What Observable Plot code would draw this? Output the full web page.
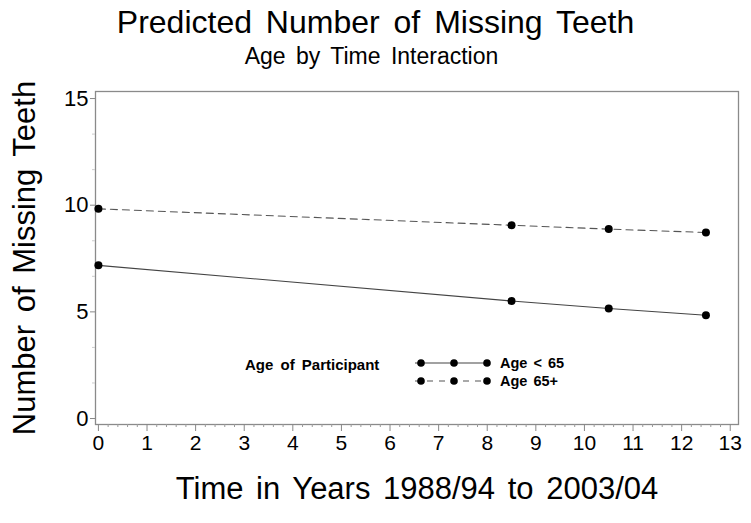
<!DOCTYPE html>
<html>
<head>
<meta charset="utf-8">
<script src="https://cdn.jsdelivr.net/npm/d3@7"></script>
<script src="https://cdn.jsdelivr.net/npm/@observablehq/plot@0.6"></script>
<style>
  html, body { margin: 0; padding: 0; background: #fff; }
  body { width: 751px; height: 523px; position: relative; overflow: hidden;
         font-family: "Liberation Sans", Arial, sans-serif; color: #000; }
  #title { position: absolute; left: 0; width: 751px; top: 3px; text-align: center;
           font-size: 32px; word-spacing: 5px; line-height: 38px; z-index: 2; }
  #subtitle { position: absolute; left: 0; width: 743px; top: 43px; text-align: center;
              font-size: 23px; word-spacing: 4px; line-height: 27px; z-index: 2; }
  #chart { position: absolute; left: 0; top: 0; }
  #legend { position: absolute; left: 0; top: 0; pointer-events: none; }
</style>
</head>
<body>
<div id="chart"></div>
<div id="title">Predicted Number of Missing Teeth</div>
<div id="subtitle">Age by Time Interaction</div>
<svg id="legend" width="751" height="523"></svg>
<script>
// ---- data ----
const times = [0, 8.5, 10.5, 12.5];
const under65 = [7.18, 5.51, 5.16, 4.84];
const over65 = [9.83, 9.06, 8.88, 8.72];
const groups = ["Age < 65", "Age 65+"];
const xTicks = d3.range(0, 14);
const yTicks = [0, 5, 10, 15];
const titleX = "Time in Years 1988/94 to 2003/04";
const titleY = "Number of Missing Teeth";
const legendTitle = "Age of Participant";

const rows = [
  ...times.map((t, i) => ({time: t, value: under65[i], group: groups[0]})),
  ...times.map((t, i) => ({time: t, value: over65[i], group: groups[1]}))
];
const minorX = d3.range(0, 13.01, 0.2).filter(v => Math.abs(v - Math.round(v)) > 1e-6);
const minorY = d3.range(0, 15.01, 5 / 3).filter(v => Math.abs(v / 5 - Math.round(v / 5)) > 1e-6);

const font = "Liberation Sans, Arial, sans-serif";
const plot = Plot.plot({
  width: 751,
  height: 523,
  marginLeft: 95,
  marginRight: 13,
  marginTop: 91,
  marginBottom: 99,
  style: {fontFamily: font, background: "transparent", color: "#000"},
  x: {domain: [-0.06, 13.17]},
  y: {domain: [-0.28, 15.33]},
  marks: [
    Plot.frame({stroke: "#8a8a8a", strokeWidth: 1.3}),
    Plot.axisX({ticks: minorX, tickSize: 3, text: null, label: null, stroke: "#999"}),
    Plot.axisX({ticks: xTicks, tickSize: 7, tickPadding: 4, fontSize: 21, label: null, stroke: "#888", tickFormat: d => String(d)}),
    Plot.axisY({ticks: minorY, tickSize: 3, text: null, label: null, stroke: "#ccc"}),
    Plot.axisY({ticks: yTicks, tickSize: 5, tickPadding: 2, fontSize: 22, label: null, stroke: "#888", tickFormat: d => String(d)}),
    Plot.text([titleY], {frameAnchor: "left", rotate: -90, textAnchor: "middle", lineAnchor: "middle", dx: -70, fontSize: 31, text: d => d, fill: "#000"}),
    Plot.text([titleX], {frameAnchor: "bottom", textAnchor: "middle", dy: 74, fontSize: 31, text: d => d, fill: "#000"}),
    Plot.line(rows.filter(d => d.group === groups[0]), {x: "time", y: "value", stroke: "#444", strokeWidth: 1.1}),
    Plot.line(rows.filter(d => d.group === groups[1]), {x: "time", y: "value", stroke: "#555", strokeWidth: 1.1, strokeDasharray: "7,5"}),
    Plot.dot(rows, {x: "time", y: "value", r: 4, fill: "#000", stroke: "none"})
  ]
});
document.getElementById("chart").appendChild(plot);
d3.select(plot).selectAll("text").style("word-spacing", "4px");

// ---- legend ----
const lg = d3.select("#legend");
lg.append("text").attr("x", 245).attr("y", 370).text(legendTitle)
  .attr("font-family", font).attr("font-size", 15).attr("font-weight", "bold").style("word-spacing", "3px");
const rowsY = [363, 381];
groups.forEach((g, i) => {
  const y = rowsY[i];
  lg.append("line").attr("x1", 415).attr("x2", 490).attr("y1", y).attr("y2", y)
    .attr("stroke", i === 0 ? "#444" : "#555").attr("stroke-width", 1.1)
    .attr("stroke-dasharray", i === 0 ? null : "6,6");
  [421, 454, 487].forEach(cx => lg.append("circle").attr("cx", cx).attr("cy", y).attr("r", 3.8).attr("fill", "#000"));
  lg.append("text").attr("x", 500).attr("y", y + 5).text(g)
    .attr("font-family", font).attr("font-size", 14.5).attr("font-weight", "bold").style("word-spacing", "2px");
});
</script>
</body>
</html>
